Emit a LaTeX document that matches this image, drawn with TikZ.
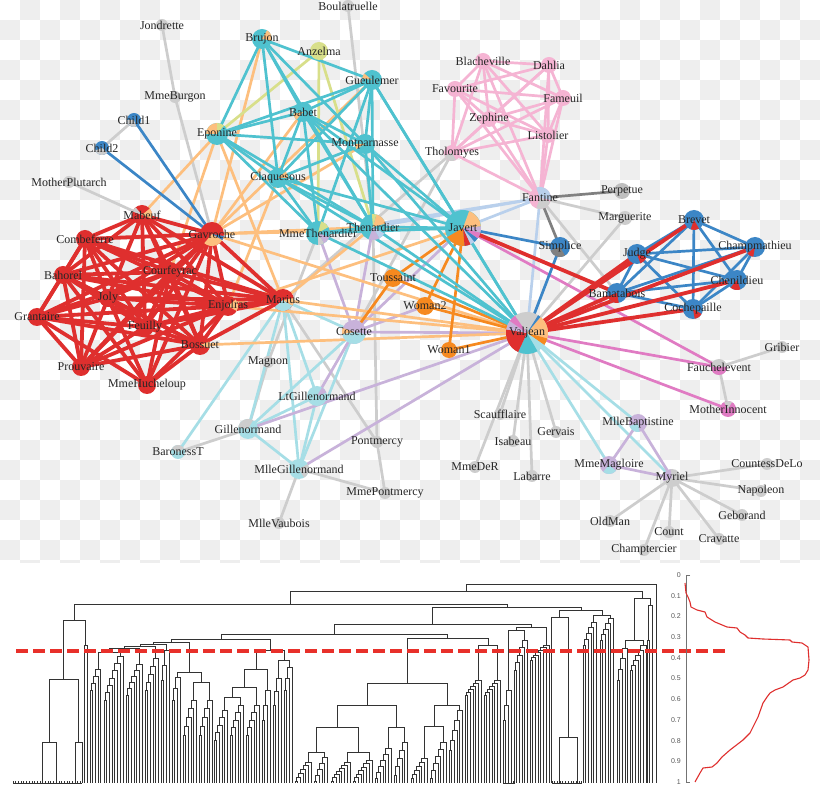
\documentclass[tikz,border=0pt]{standalone}
\usepackage{fontspec}
\setmainfont{Liberation Serif}
\newfontfamily\tickfont{Liberation Sans}
\usetikzlibrary{calc}
\definecolor{cgray}{HTML}{CDCDCD}
\definecolor{cdgray}{HTML}{808080}
\definecolor{cblue}{HTML}{3C86C6}
\definecolor{clblue}{HTML}{B9D0EC}
\definecolor{corange}{HTML}{F6891F}
\definecolor{clorange}{HTML}{FDBF7E}
\definecolor{cred}{HTML}{DF2F2E}
\definecolor{ccyan}{HTML}{4FC2CF}
\definecolor{clcyan}{HTML}{A6DEE6}
\definecolor{cpink}{HTML}{F5B4D3}
\definecolor{cmag}{HTML}{E07BC3}
\definecolor{clav}{HTML}{C8B2DA}
\definecolor{cyg}{HTML}{D8DF8A}
\definecolor{checker}{HTML}{EEEEEE}
\definecolor{txt}{HTML}{262626}
\definecolor{dline}{HTML}{E8302A}
% wedge of a pie node: node, start angle, end angle, radius, colour (visual angles)
\newcommand\wdg[5]{\begin{scope}[shift={(#1)},yscale=-1]\fill[#5] (0,0) -- (#2:#4) arc[start angle=#2,end angle=#3,radius=#4] -- cycle;\end{scope}}
% dendrogram helpers
\newcommand\leafc[2]{\coordinate (#1) at (#2,783);}
\newcommand\dcomb[5]{%
  \xdef\cpx{#2}\xdef\cpy{783}%
  \foreach \i in {1,...,#3}{%
    \pgfmathsetmacro\lx{#2+\i*2.7}%
    \pgfmathsetmacro\jy{#4+(#5-(#4))*(\i-1)/max(#3-1,1)}%
    \draw[dg] (\cpx,\cpy) -- (\cpx,\jy) -- (\lx,\jy) -- (\lx,783);%
    \pgfmathsetmacro\nx{(\cpx+\lx)/2}%
    \xdef\cpx{\nx}\xdef\cpy{\jy}%
  }%
  \coordinate (#1) at (\cpx,\cpy);%
}
\newcommand\djoin[4]{%
  \draw[dg] (#1) -- (#1 |- 0,#3) -- (#2 |- 0,#3) -- (#2);%
  \coordinate (#4) at ($(#1 |- 0,#3)!0.5!(#2 |- 0,#3)$);%
}
\newcommand\flatl[2]{%
  \draw[dg] (#1,783) -- (#2,783);%
  \pgfmathtruncatemacro\nt{(#2-#1)/2.7}%
  \foreach \t in {0,...,\nt}{\draw[dg] (#1+\t*2.7,783) -- ++(0,-2.5);}%
}
\begin{document}
\begin{tikzpicture}[x=1pt,y=-1pt,
  e/.style={line width=2.7},
  eg/.style={e,draw=cgray},
  edg/.style={e,draw=cdgray},
  elc/.style={e,draw=clcyan},
  elv/.style={e,draw=clav},
  elb/.style={e,draw=clblue},
  epk/.style={e,draw=cpink},
  elo/.style={e,draw=clorange},
  eor/.style={e,draw=corange},
  eyg/.style={e,draw=cyg},
  emg/.style={e,draw=cmag},
  ebl/.style={e,draw=cblue},
  ecy/.style={e,draw=ccyan},
  erd/.style={line width=3.8,draw=cred},
  lab/.style={font=\fontsize{12}{14}\selectfont,text=txt,inner sep=0pt},
  tick/.style={font=\tickfont\fontsize{7}{8}\selectfont,text=black!65,anchor=east,inner sep=0pt},
  dg/.style={draw=black!80,line width=0.8}]
\useasboundingbox (0,0) rectangle (820,791);
\fill[white] (0,0) rectangle (820,791);
% checkerboard background of the network image
\begin{scope}
\clip (0,0) rectangle (820,563);
\foreach \i in {0,...,40}{\foreach \j in {0,...,28}{%
  \pgfmathtruncatemacro\k{mod(\i+\j,2)}%
  \ifnum\k=1 \fill[checker] (\i*20,\j*20) rectangle ++(20,20);\fi}}
\end{scope}
% ---------------- network coordinates ----------------
\coordinate (Boulatruelle) at (348,6);
\coordinate (Jondrette) at (162,25);
\coordinate (Brujon) at (262,39);
\coordinate (Anzelma) at (319,51);
\coordinate (Gueulemer) at (372,80);
\coordinate (MmeBurgon) at (175,97);
\coordinate (Babet) at (303,112);
\coordinate (Child1) at (134,120);
\coordinate (Eponine) at (217,134);
\coordinate (Montparnasse) at (365,144);
\coordinate (Child2) at (102,148);
\coordinate (Claquesous) at (278,178);
\coordinate (MotherPlutarch) at (69,182);
\coordinate (Mabeuf) at (142,215);
\coordinate (Gavroche) at (212,234);
\coordinate (MmeThenardier) at (318,233);
\coordinate (Thenardier) at (373,227);
\coordinate (Combeferre) at (85,239);
\coordinate (Courfeyrac) at (170,272);
\coordinate (Bahorel) at (63,275);
\coordinate (Joly) at (108,298);
\coordinate (Toussaint) at (393,278);
\coordinate (Grantaire) at (37,317);
\coordinate (Enjolras) at (228,306);
\coordinate (Marius) at (283,300);
\coordinate (Feuilly) at (145,327);
\coordinate (Bossuet) at (200,345);
\coordinate (Cosette) at (354,332);
\coordinate (Prouvaire) at (81,367);
\coordinate (MmeHucheloup) at (147,385);
\coordinate (Magnon) at (268,362);
\coordinate (LtGillenormand) at (317,396);
\coordinate (Gillenormand) at (248,429);
\coordinate (BaronessT) at (178,452);
\coordinate (Pontmercy) at (377,442);
\coordinate (MlleGillenormand) at (299,469);
\coordinate (MmePontmercy) at (385,493);
\coordinate (MlleVaubois) at (279,523);
\coordinate (Javert) at (463,228);
\coordinate (Valjean) at (527,333);
\coordinate (Woman2) at (425,306);
\coordinate (Woman1) at (449,350);
\coordinate (Blacheville) at (483,61);
\coordinate (Dahlia) at (549,65);
\coordinate (Favourite) at (455,89);
\coordinate (Fameuil) at (563,98);
\coordinate (Zephine) at (489,119);
\coordinate (Listolier) at (548,135);
\coordinate (Tholomyes) at (452,153);
\coordinate (Fantine) at (540,198);
\coordinate (Perpetue) at (622,191);
\coordinate (Marguerite) at (625,218);
\coordinate (Simplice) at (560,247);
\coordinate (Brevet) at (694,220);
\coordinate (Judge) at (637,254);
\coordinate (Champmathieu) at (755,247);
\coordinate (Chenildieu) at (737,280);
\coordinate (Bamatabois) at (617,293);
\coordinate (Cochepaille) at (693,309);
\coordinate (Fauchelevent) at (719,367);
\coordinate (Gribier) at (782,347);
\coordinate (MotherInnocent) at (728,409);
\coordinate (Scaufflaire) at (500,414);
\coordinate (Isabeau) at (513,441);
\coordinate (Gervais) at (556,432);
\coordinate (Labarre) at (532,476);
\coordinate (MmeDeR) at (475,467);
\coordinate (MlleBaptistine) at (638,423);
\coordinate (MmeMagloire) at (609,465);
\coordinate (Myriel) at (672,478);
\coordinate (CountessDeLo) at (767,464);
\coordinate (Napoleon) at (761,491);
\coordinate (Geborand) at (742,515);
\coordinate (Cravatte) at (719,539);
\coordinate (Count) at (669,532);
\coordinate (OldMan) at (610,521);
\coordinate (Champtercier) at (644,550);
% ---------------- edges ----------------
\foreach \a/\b in {Myriel/Napoleon,Myriel/CountessDeLo,Myriel/Geborand,Myriel/Champtercier,Myriel/Cravatte,Myriel/Count,Myriel/OldMan,
  Valjean/Labarre,Valjean/Marguerite,Valjean/MmeDeR,Valjean/Isabeau,Valjean/Gervais,Valjean/Scaufflaire,
  Fantine/Marguerite,Fantine/Bamatabois,Tholomyes/Cosette,Tholomyes/Marius,Fauchelevent/MotherInnocent,Fauchelevent/Gribier,
  Thenardier/Boulatruelle,Thenardier/Pontmercy,Jondrette/MmeBurgon,MmeBurgon/Gavroche,Gillenormand/Magnon,Magnon/MmeThenardier,
  MlleGillenormand/MmePontmercy,Pontmercy/MmePontmercy,MlleVaubois/MlleGillenormand,Pontmercy/Marius,BaronessT/Gillenormand,
  Child1/Child2,MotherPlutarch/Mabeuf}{\draw[eg] (\a) -- (\b);}
\foreach \a/\b in {Fantine/Perpetue,Fantine/Simplice}{\draw[edg] (\a) -- (\b);}
\foreach \a/\b in {Valjean/Myriel,Valjean/MlleBaptistine,Valjean/MmeMagloire,Marius/Gillenormand,Marius/MlleGillenormand,
  Marius/LtGillenormand,Marius/BaronessT,Gillenormand/LtGillenormand,Gillenormand/MlleGillenormand,MlleGillenormand/LtGillenormand,
  Cosette/Gillenormand,Cosette/MlleGillenormand,Marius/Cosette}{\draw[elc] (\a) -- (\b);}
\foreach \a/\b in {Cosette/MmeThenardier,Cosette/Thenardier,Cosette/Javert,Cosette/Valjean,Cosette/Woman2,Cosette/LtGillenormand,
  Valjean/Gillenormand,Valjean/MlleGillenormand,Myriel/MlleBaptistine,Myriel/MmeMagloire,MlleBaptistine/MmeMagloire}{\draw[elv] (\a) -- (\b);}
\foreach \a/\b in {Fantine/Thenardier,Fantine/MmeThenardier,Fantine/Javert,Fantine/Valjean}{\draw[elb] (\a) -- (\b);}
\foreach \a [count=\ia] in {Tholomyes,Listolier,Fameuil,Blacheville,Favourite,Dahlia,Zephine,Fantine}{%
  \foreach \b [count=\ib] in {Tholomyes,Listolier,Fameuil,Blacheville,Favourite,Dahlia,Zephine,Fantine}{%
    \ifnum\ib>\ia \draw[epk] (\a) -- (\b);\fi}}
\foreach \a/\b in {Gavroche/Thenardier,Gavroche/Javert,Gavroche/Valjean,Gavroche/Gueulemer,Gavroche/Babet,Gavroche/Montparnasse,
  Gavroche/Brujon,Marius/Eponine,Marius/Thenardier,Marius/Valjean,Enjolras/Javert,Enjolras/Valjean,Enjolras/Claquesous,
  Bossuet/Valjean,Eponine/Mabeuf,Eponine/Courfeyrac}{\draw[elo] (\a) -- (\b);}
\foreach \a/\b in {Woman1/Valjean,Woman1/Javert,Woman2/Valjean,Woman2/Javert,Toussaint/Javert,Toussaint/Valjean,Toussaint/Cosette}{\draw[eor] (\a) -- (\b);}
\foreach \a/\b in {Anzelma/Eponine,Anzelma/Thenardier,Anzelma/MmeThenardier}{\draw[eyg] (\a) -- (\b);}
\foreach \a/\b in {Fauchelevent/Valjean,Fauchelevent/Javert,MotherInnocent/Valjean}{\draw[emg] (\a) -- (\b);}
\foreach \a/\b in {Simplice/Javert,Simplice/Valjean,Child1/Gavroche,Child2/Gavroche}{\draw[ebl] (\a) -- (\b);}
\foreach \a [count=\ia] in {Judge,Champmathieu,Brevet,Chenildieu,Cochepaille,Bamatabois}{%
  \foreach \b [count=\ib] in {Judge,Champmathieu,Brevet,Chenildieu,Cochepaille,Bamatabois}{%
    \ifnum\ib>\ia \draw[ebl] (\a) -- (\b);\fi}}
\foreach \a/\b in {Eponine/MmeThenardier,Eponine/Thenardier,Thenardier/MmeThenardier,MmeThenardier/Valjean,Thenardier/Valjean,
  Javert/Valjean,Javert/Thenardier,Javert/MmeThenardier,Gueulemer/Thenardier,Gueulemer/Valjean,Gueulemer/MmeThenardier,
  Gueulemer/Javert,Gueulemer/Eponine,Babet/Thenardier,Babet/Gueulemer,Babet/Valjean,Babet/MmeThenardier,Babet/Javert,
  Babet/Eponine,Claquesous/Thenardier,Claquesous/Babet,Claquesous/Gueulemer,Claquesous/Valjean,Claquesous/MmeThenardier,
  Claquesous/Javert,Claquesous/Eponine,Montparnasse/Javert,Montparnasse/Babet,Montparnasse/Gueulemer,Montparnasse/Claquesous,
  Montparnasse/Valjean,Montparnasse/Eponine,Montparnasse/Thenardier,Brujon/Babet,Brujon/Gueulemer,Brujon/Thenardier,
  Brujon/Eponine,Brujon/Claquesous,Brujon/Montparnasse}{\draw[ecy] (\a) -- (\b);}
\foreach \a/\b in {Valjean/Judge,Valjean/Champmathieu,Valjean/Brevet,Valjean/Chenildieu,Valjean/Cochepaille,Valjean/Bamatabois,
  Javert/Bamatabois,
  Mabeuf/Marius,Mabeuf/Gavroche,Enjolras/Marius,Enjolras/Gavroche,Enjolras/Mabeuf,Marius/Gavroche,
  Combeferre/Enjolras,Combeferre/Marius,Combeferre/Gavroche,Combeferre/Mabeuf,
  Prouvaire/Gavroche,Prouvaire/Enjolras,Prouvaire/Combeferre,
  Feuilly/Gavroche,Feuilly/Enjolras,Feuilly/Prouvaire,Feuilly/Combeferre,Feuilly/Mabeuf,Feuilly/Marius,
  Courfeyrac/Marius,Courfeyrac/Enjolras,Courfeyrac/Combeferre,Courfeyrac/Gavroche,Courfeyrac/Mabeuf,Courfeyrac/Feuilly,Courfeyrac/Prouvaire,
  Bahorel/Combeferre,Bahorel/Gavroche,Bahorel/Courfeyrac,Bahorel/Mabeuf,Bahorel/Enjolras,Bahorel/Feuilly,Bahorel/Prouvaire,Bahorel/Marius,
  Bossuet/Marius,Bossuet/Courfeyrac,Bossuet/Gavroche,Bossuet/Bahorel,Bossuet/Enjolras,Bossuet/Feuilly,Bossuet/Prouvaire,Bossuet/Combeferre,Bossuet/Mabeuf,
  Joly/Bahorel,Joly/Bossuet,Joly/Gavroche,Joly/Courfeyrac,Joly/Enjolras,Joly/Feuilly,Joly/Prouvaire,Joly/Combeferre,Joly/Mabeuf,Joly/Marius,
  Grantaire/Bossuet,Grantaire/Enjolras,Grantaire/Combeferre,Grantaire/Courfeyrac,Grantaire/Joly,Grantaire/Gavroche,Grantaire/Bahorel,Grantaire/Feuilly,Grantaire/Prouvaire,
  MmeHucheloup/Bossuet,MmeHucheloup/Joly,MmeHucheloup/Grantaire,MmeHucheloup/Bahorel,MmeHucheloup/Courfeyrac,MmeHucheloup/Gavroche,MmeHucheloup/Enjolras}{\draw[erd] (\a) -- (\b);}
% ---------------- nodes ----------------
\foreach \n/\r/\nc in {Boulatruelle/6/cgray,Jondrette/6/cgray,MmeBurgon/6/cgray,MotherPlutarch/6/cgray,Magnon/6/cgray,
  Pontmercy/6/cgray,MmePontmercy/6/cgray,MlleVaubois/6/cgray,Marguerite/7/cgray,Gribier/6/cgray,Scaufflaire/6/cgray,
  Isabeau/6/cgray,Gervais/6/cgray,MmeDeR/6/cgray,Labarre/6/cgray,CountessDeLo/6/cgray,Napoleon/6/cgray,Geborand/6/cgray,
  OldMan/6/cgray,Count/6/cgray,Cravatte/6/cgray,Champtercier/6/cgray,Perpetue/8/black!25,
  Valjean/21/cgray,Javert/18/ccyan,Thenardier/13/ccyan,MmeThenardier/12/ccyan,Eponine/11/ccyan,Gavroche/12/cred,
  Marius/11/cred,Cosette/12/clav,Brujon/10/ccyan,Gueulemer/10/ccyan,Babet/10/ccyan,Montparnasse/10/ccyan,Claquesous/10/ccyan,
  Enjolras/10/cred,Bossuet/10/cred,Mabeuf/10/cred,Courfeyrac/10/cred,Combeferre/9/cred,Bahorel/9/cred,Joly/9/cred,
  Grantaire/9/cred,Feuilly/9/cred,Prouvaire/9/cred,MmeHucheloup/9/cred,
  Fantine/11/cpink,Tholomyes/8/cpink,Blacheville/8/cpink,Dahlia/8/cpink,Favourite/8/cpink,Fameuil/8/cpink,Zephine/8/cpink,Listolier/8/cpink,
  Simplice/10/cblue,Judge/10/cblue,Brevet/10/cblue,Champmathieu/10/cblue,Chenildieu/10/cblue,Cochepaille/10/cblue,Bamatabois/10/cblue,
  Fauchelevent/8/cgray,MotherInnocent/8/cmag,MlleBaptistine/9/clav,MmeMagloire/9/clav,Myriel/9/cgray,
  Child1/7/cblue,Child2/7/cblue,Gillenormand/10/clcyan,LtGillenormand/10/clcyan,MlleGillenormand/10/clcyan,BaronessT/7/clcyan,
  Woman1/8/corange,Woman2/9/corange,Toussaint/9/corange,Anzelma/9/cyg}{\fill[\nc] (\n) circle[radius=\r];}
% pie wedges
\wdg{Valjean}{-15}{50}{21}{clorange}\wdg{Valjean}{-35}{-15}{21}{corange}\wdg{Valjean}{-60}{-35}{21}{clcyan}
\wdg{Valjean}{-115}{-60}{21}{ccyan}\wdg{Valjean}{-190}{-115}{21}{cred}\wdg{Valjean}{-215}{-190}{21}{clav}
\wdg{Valjean}{-235}{-215}{21}{cmag}\wdg{Valjean}{50}{58}{21}{cblue}
\wdg{Javert}{5}{70}{18}{clorange}\wdg{Javert}{210}{275}{18}{corange}\wdg{Javert}{275}{295}{18}{cred}
\wdg{Javert}{295}{310}{18}{clblue}\wdg{Javert}{310}{325}{18}{cblue}\wdg{Javert}{325}{345}{18}{cmag}\wdg{Javert}{345}{365}{18}{clav}
\wdg{Thenardier}{15}{75}{13}{clorange}\wdg{Thenardier}{75}{95}{13}{cyg}\wdg{Thenardier}{250}{300}{13}{clav}\wdg{Thenardier}{300}{330}{13}{clblue}
\wdg{MmeThenardier}{30}{75}{12}{cyg}\wdg{MmeThenardier}{300}{340}{12}{clav}\wdg{MmeThenardier}{270}{300}{12}{cgray}
\wdg{Eponine}{90}{180}{11}{clorange}\wdg{Eponine}{50}{90}{11}{cyg}
\wdg{Gavroche}{230}{330}{12}{clorange}\wdg{Gavroche}{330}{350}{12}{cblue}
\wdg{Marius}{220}{330}{11}{clcyan}\wdg{Marius}{-30}{10}{11}{clorange}
\wdg{Cosette}{190}{350}{12}{clcyan}\wdg{Cosette}{160}{190}{12}{clorange}
\wdg{Brujon}{-10}{60}{10}{clorange}\wdg{Gueulemer}{140}{170}{10}{clorange}\wdg{Babet}{190}{230}{10}{clorange}
\wdg{Montparnasse}{180}{210}{10}{clorange}\wdg{Claquesous}{0}{40}{10}{clorange}
\wdg{Enjolras}{-30}{40}{10}{clorange}\wdg{Bossuet}{-20}{20}{10}{clorange}\wdg{Mabeuf}{-20}{40}{10}{clorange}\wdg{Mabeuf}{130}{160}{10}{cgray}
\wdg{Fantine}{-10}{110}{11}{clblue}\wdg{Fantine}{250}{340}{11}{cgray}
\wdg{Tholomyes}{200}{300}{8}{cgray}
\wdg{Simplice}{200}{300}{10}{cdgray}
\wdg{Judge}{290}{340}{10}{cred}\wdg{Brevet}{250}{300}{10}{cred}\wdg{Champmathieu}{220}{260}{10}{cred}
\wdg{Chenildieu}{230}{290}{10}{cred}\wdg{Cochepaille}{280}{330}{10}{cred}\wdg{Bamatabois}{200}{280}{10}{cred}
\wdg{Fauchelevent}{180}{360}{8}{cmag}\wdg{MotherInnocent}{60}{120}{8}{cgray}
\wdg{MlleBaptistine}{200}{280}{9}{clcyan}\wdg{MmeMagloire}{230}{320}{9}{clcyan}\wdg{Myriel}{100}{200}{9}{clav}
\wdg{Child1}{180}{290}{7}{cgray}\wdg{Child2}{200}{320}{7}{cgray}
\wdg{Gillenormand}{60}{170}{10}{cgray}\wdg{LtGillenormand}{20}{60}{10}{clav}\wdg{MlleGillenormand}{-60}{30}{10}{cgray}
\wdg{BaronessT}{30}{150}{7}{cgray}
% labels
\foreach \n in {Boulatruelle,Jondrette,Brujon,Anzelma,Gueulemer,MmeBurgon,Babet,Child1,Eponine,Montparnasse,Child2,Claquesous,
  MotherPlutarch,Mabeuf,Gavroche,MmeThenardier,Thenardier,Combeferre,Courfeyrac,Bahorel,Joly,Toussaint,Grantaire,Enjolras,Marius,
  Feuilly,Bossuet,Cosette,Prouvaire,MmeHucheloup,Magnon,LtGillenormand,Gillenormand,BaronessT,Pontmercy,MlleGillenormand,
  MmePontmercy,MlleVaubois,Javert,Valjean,Woman2,Woman1,Blacheville,Dahlia,Favourite,Fameuil,Zephine,Listolier,Tholomyes,
  Fantine,Perpetue,Marguerite,Simplice,Brevet,Judge,Champmathieu,Chenildieu,Bamatabois,Cochepaille,Fauchelevent,Gribier,
  MotherInnocent,Scaufflaire,Isabeau,Gervais,Labarre,MmeDeR,MlleBaptistine,MmeMagloire,Myriel,CountessDeLo,Napoleon,Geborand,
  Cravatte,Count,OldMan,Champtercier}{\node[lab] (t\n) at (\n) {\n};}
% ---------------- dendrogram ----------------
\flatl{13}{82}
\leafc{La}{42}\leafc{Lb}{56}\djoin{La}{Lb}{742}{P1}
\leafc{Lc}{75}\leafc{Ld}{82}\djoin{Lc}{Ld}{742}{P2}
\djoin{P1}{P2}{679}{P3}
\dcomb{C1}{84.5}{1}{645}{645}
\djoin{P3}{C1}{620}{P4}
\dcomb{C2}{90}{4}{690}{669}
\dcomb{C3}{104}{7}{700}{656}
\dcomb{C4}{126}{6}{695}{664}
\dcomb{C5}{145}{5}{690}{658}
\dcomb{C6}{161}{3}{680}{650}
\dcomb{C7}{172}{3}{700}{677}
\dcomb{C8}{183}{5}{735}{700}
\dcomb{C9}{199}{5}{735}{700}
\djoin{C2}{C3}{652}{A1}
\djoin{A1}{C4}{648}{A2}
\djoin{A2}{C5}{646}{A3}
\djoin{A3}{C6}{644}{A4}
\djoin{C8}{C9}{682}{B1}
\djoin{C7}{B1}{672}{B1b}
\djoin{A4}{B1b}{642}{A5}
\dcomb{C10}{214}{5}{740}{710}
\dcomb{C11}{230}{5}{735}{705}
\dcomb{C12}{246}{5}{735}{705}
\dcomb{C13}{262}{3}{720}{690}
\djoin{C10}{C11}{697}{B2}
\djoin{B2}{C12}{687}{B3}
\djoin{B3}{C13}{669}{B4}
\dcomb{C14}{273}{3}{705}{678}
\dcomb{C15}{284}{3}{690}{667}
\djoin{C14}{C15}{660}{B5}
\djoin{B4}{B5}{650}{B6}
\djoin{A5}{B6}{639}{M1}
\dcomb{C16}{295}{6}{781}{762}
\dcomb{C17}{314}{5}{781}{757}
\dcomb{C18}{331}{7}{781}{762}
\dcomb{C19}{353}{7}{781}{760}
\dcomb{C20}{375}{6}{778}{748}
\dcomb{C21}{394}{5}{775}{742}
\djoin{C16}{C17}{752}{D1}
\djoin{C18}{C19}{752}{D2}
\djoin{D1}{D2}{727}{D3}
\djoin{C20}{C21}{727}{D4}
\djoin{D3}{D4}{705}{D5}
\dcomb{C22}{411}{6}{778}{758}
\dcomb{C23}{430}{6}{778}{742}
\dcomb{C24}{449}{5}{750}{710}
\djoin{C22}{C23}{726}{D6}
\djoin{D6}{C24}{705}{D7}
\djoin{D5}{D7}{683}{D8}
\dcomb{C25}{465}{6}{695}{680}
\dcomb{C26}{484}{6}{695}{680}
\djoin{C25}{C26}{645}{E1}
\djoin{D8}{E1}{638}{E2}
\flatl{503}{515}
\dcomb{C27}{503}{3}{720}{690}
\dcomb{C28}{514}{5}{670}{640}
\dcomb{C29}{530}{7}{660}{645}
\djoin{C27}{C28}{630}{F1}
\djoin{F1}{C29}{627}{F2}
\flatl{552}{582}
\leafc{G1}{559}\leafc{G2}{577}\djoin{G1}{G2}{737}{G3}
\leafc{G4}{551}\djoin{G4}{G3}{617}{G5}
\dcomb{C31}{583}{5}{645}{622}
\dcomb{C32}{600}{5}{640}{618}
\djoin{C31}{C32}{615}{G6}
\djoin{G5}{G6}{610}{G7}
\dcomb{C33}{617}{4}{680}{648}
\dcomb{C34}{630}{6}{670}{645}
\djoin{C33}{C34}{640}{H1}
\dcomb{C35}{647}{2}{640}{605}
\djoin{H1}{C35}{598}{H2}
\leafc{H3}{656}
\djoin{M1}{E2}{634}{T1}
\djoin{T1}{F2}{624}{T2}
\djoin{T2}{G7}{607}{T3}
\djoin{P4}{T3}{604}{T4}
\djoin{T4}{H2}{591}{T5}
\djoin{T5}{H3}{584}{T6}
% threshold line
\coordinate (dA) at (16,651);
\coordinate (dB) at (725,651);
\draw[dline,line width=4.5,dash pattern=on 12pt off 5pt] (dA) -- (dB);
% ---------------- right panel ----------------
\coordinate (ax0) at (686,575);
\coordinate (ax1) at (686,782);
\draw[black!55,line width=0.7] ($(ax0)+(4,0)$) -- (ax0) -- (ax1) -- ($(ax1)+(4,0)$);
\foreach \v/\s in {0/0,1/0.1,2/0.2,3/0.3,4/0.4,5/0.5,6/0.6,7/0.7,8/0.8,9/0.9,10/1}{%
  \node[tick] (tk\v) at (681,575+\v*20.7) {\s};}
\draw[cred,line width=1.1,line join=round] plot coordinates {(685,583) (686,593) (688,597) (690,602) (691,607) (697,610) (705,612)
  (707,617) (715,622) (727,627) (737,628) (740,632) (745,635) (748,638) (763,639) (790,640) (792,642) (802,643) (808,647)
  (809,660) (808,670) (805,675) (800,678) (793,680) (783,687) (775,690) (770,693) (767,697) (763,703) (758,717) (755,723)
  (750,733) (743,740) (730,750) (722,757) (717,763) (712,767) (703,768) (700,773) (695,782)};
\end{tikzpicture}
\end{document}
